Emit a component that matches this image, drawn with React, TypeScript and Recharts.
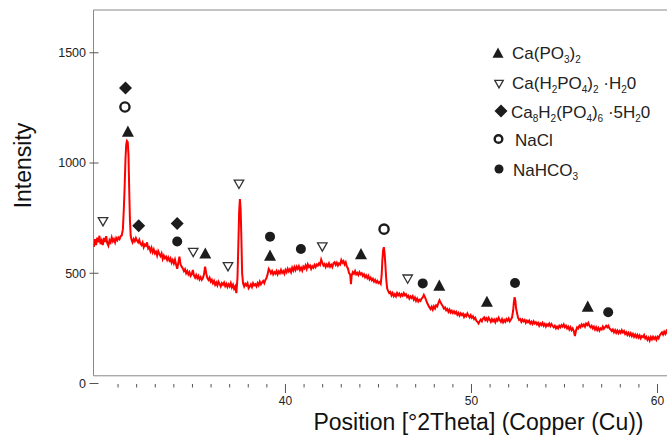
import React from 'react';
import { ComposedChart, Line, Scatter, XAxis, YAxis, ReferenceArea } from 'recharts';

// XRD scan, [2theta, counts]
const pattern: [number, number][] = [
  [29.70, 620], [29.76, 655], [29.82, 628], [29.88, 662], [29.94, 640], [30.00, 670], [30.06, 632], [30.12, 648],
  [30.18, 628], [30.24, 660], [30.30, 642], [30.36, 668], [30.42, 636], [30.48, 625], [30.54, 650], [30.60, 640],
  [30.66, 662], [30.72, 645], [30.78, 655], [30.84, 640], [30.90, 660], [30.96, 650], [31.02, 662], [31.08, 655],
  [31.14, 668], [31.20, 672], [31.26, 700], [31.31, 790], [31.35, 880], [31.40, 1020], [31.44, 1085], [31.48, 1100],
  [31.52, 1095], [31.56, 1040], [31.60, 880], [31.64, 740], [31.68, 670], [31.73, 650], [31.78, 640], [31.84, 655],
  [31.90, 645], [31.96, 660], [32.02, 648], [32.08, 640], [32.14, 652], [32.20, 635], [32.26, 628], [32.32, 640],
  [32.38, 618], [32.44, 630], [32.50, 625], [32.56, 640], [32.62, 612], [32.68, 618], [32.74, 600], [32.80, 615],
  [32.86, 595], [32.92, 608], [32.98, 590], [33.04, 598], [33.10, 580], [33.16, 600], [33.22, 588], [33.28, 578],
  [33.34, 590], [33.40, 565], [33.46, 580], [33.52, 568], [33.58, 575], [33.64, 560], [33.70, 572], [33.76, 558],
  [33.82, 568], [33.88, 548], [33.94, 560], [34.00, 545], [34.06, 562], [34.12, 540], [34.18, 520], [34.24, 548],
  [34.30, 575], [34.36, 540], [34.42, 530], [34.48, 522], [34.54, 510], [34.60, 518], [34.66, 500], [34.72, 510],
  [34.78, 495], [34.84, 505], [34.90, 488], [34.96, 495], [35.02, 515], [35.08, 490], [35.14, 480], [35.20, 492],
  [35.26, 478], [35.32, 488], [35.38, 472], [35.44, 482], [35.50, 470], [35.56, 478], [35.62, 495], [35.68, 530],
  [35.74, 500], [35.80, 478], [35.86, 470], [35.92, 480], [35.98, 462], [36.04, 470], [36.10, 455], [36.16, 465],
  [36.22, 448], [36.28, 458], [36.34, 445], [36.40, 462], [36.46, 452], [36.52, 440], [36.58, 455], [36.64, 448],
  [36.70, 458], [36.76, 442], [36.82, 452], [36.88, 438], [36.94, 450], [37.00, 440], [37.06, 455], [37.12, 436],
  [37.18, 448], [37.24, 430], [37.30, 440], [37.36, 410], [37.42, 480], [37.47, 640], [37.51, 780], [37.55, 836],
  [37.59, 790], [37.63, 660], [37.67, 500], [37.72, 455], [37.78, 440], [37.84, 452], [37.90, 445], [37.96, 455],
  [38.02, 432], [38.08, 440], [38.14, 450], [38.20, 438], [38.26, 455], [38.32, 445], [38.38, 450], [38.44, 440],
  [38.50, 455], [38.56, 445], [38.62, 462], [38.68, 450], [38.74, 458], [38.80, 465], [38.86, 455], [38.92, 470],
  [38.98, 478], [39.04, 495], [39.10, 520], [39.16, 512], [39.22, 500], [39.28, 510], [39.34, 495], [39.40, 505],
  [39.46, 498], [39.52, 510], [39.58, 495], [39.64, 508], [39.70, 500], [39.76, 515], [39.82, 502], [39.88, 510],
  [39.94, 498], [40.00, 515], [40.06, 505], [40.12, 520], [40.18, 508], [40.24, 518], [40.30, 505], [40.36, 525],
  [40.42, 512], [40.48, 528], [40.54, 515], [40.60, 530], [40.66, 520], [40.72, 532], [40.78, 515], [40.84, 525],
  [40.90, 512], [40.96, 530], [41.02, 522], [41.08, 535], [41.14, 520], [41.20, 540], [41.26, 528], [41.32, 535],
  [41.38, 520], [41.44, 532], [41.50, 525], [41.56, 538], [41.62, 528], [41.68, 540], [41.74, 535], [41.80, 545],
  [41.86, 538], [41.92, 562], [41.98, 548], [42.04, 535], [42.10, 542], [42.16, 528], [42.22, 540], [42.28, 532],
  [42.34, 545], [42.40, 530], [42.46, 538], [42.52, 528], [42.58, 545], [42.64, 550], [42.70, 538], [42.76, 548],
  [42.82, 535], [42.88, 545], [42.94, 540], [43.00, 560], [43.06, 548], [43.12, 555], [43.18, 540], [43.24, 550],
  [43.30, 530], [43.36, 522], [43.42, 500], [43.48, 495], [43.52, 450], [43.56, 490], [43.62, 505], [43.68, 498],
  [43.74, 510], [43.80, 495], [43.86, 502], [43.92, 492], [43.98, 505], [44.04, 495], [44.10, 500], [44.16, 488],
  [44.22, 495], [44.28, 482], [44.34, 490], [44.40, 478], [44.46, 488], [44.52, 472], [44.58, 480], [44.64, 468],
  [44.70, 475], [44.76, 462], [44.82, 470], [44.88, 458], [44.94, 465], [45.00, 455], [45.06, 460], [45.12, 452],
  [45.17, 490], [45.21, 560], [45.25, 605], [45.29, 618], [45.33, 590], [45.37, 540], [45.42, 470], [45.47, 430],
  [45.52, 420], [45.58, 410], [45.64, 415], [45.70, 400], [45.76, 410], [45.82, 396], [45.88, 405], [45.94, 395],
  [46.00, 410], [46.06, 400], [46.12, 408], [46.18, 396], [46.24, 405], [46.30, 398], [46.36, 410], [46.42, 400],
  [46.48, 405], [46.54, 392], [46.60, 398], [46.66, 385], [46.72, 395], [46.78, 388], [46.84, 396], [46.90, 380],
  [46.96, 390], [47.02, 375], [47.08, 385], [47.14, 372], [47.20, 380], [47.26, 375], [47.32, 385], [47.38, 390],
  [47.44, 402], [47.50, 392], [47.56, 378], [47.62, 365], [47.68, 355], [47.74, 345], [47.80, 338], [47.86, 348],
  [47.92, 335], [47.98, 350], [48.04, 340], [48.10, 355], [48.16, 350], [48.22, 365], [48.28, 378], [48.34, 368],
  [48.40, 358], [48.46, 350], [48.52, 340], [48.58, 345], [48.64, 332], [48.70, 338], [48.76, 325], [48.82, 335],
  [48.88, 322], [48.94, 330], [49.00, 320], [49.06, 328], [49.12, 318], [49.18, 325], [49.24, 312], [49.30, 320],
  [49.36, 308], [49.42, 318], [49.48, 310], [49.54, 316], [49.60, 302], [49.66, 312], [49.72, 305], [49.78, 318],
  [49.84, 308], [49.90, 300], [49.96, 310], [50.02, 298], [50.08, 305], [50.14, 292], [50.20, 298], [50.26, 285],
  [50.32, 280], [50.38, 272], [50.44, 282], [50.50, 290], [50.56, 282], [50.62, 295], [50.68, 300], [50.74, 288],
  [50.80, 296], [50.86, 285], [50.92, 298], [50.98, 290], [51.04, 280], [51.10, 292], [51.16, 282], [51.22, 290],
  [51.28, 278], [51.34, 292], [51.40, 285], [51.46, 298], [51.52, 288], [51.58, 280], [51.64, 292], [51.70, 278],
  [51.76, 288], [51.82, 280], [51.88, 292], [51.94, 285], [52.00, 295], [52.06, 282], [52.12, 290], [52.18, 300],
  [52.24, 330], [52.28, 370], [52.32, 392], [52.36, 375], [52.40, 340], [52.45, 320], [52.50, 300], [52.56, 288],
  [52.62, 292], [52.68, 280], [52.74, 290], [52.80, 282], [52.86, 288], [52.92, 275], [52.98, 285], [53.04, 278],
  [53.10, 285], [53.16, 272], [53.22, 280], [53.28, 270], [53.34, 282], [53.40, 272], [53.46, 278], [53.52, 268],
  [53.58, 275], [53.64, 262], [53.70, 272], [53.76, 265], [53.82, 275], [53.88, 262], [53.94, 270], [54.00, 258],
  [54.06, 268], [54.12, 262], [54.18, 272], [54.24, 260], [54.30, 270], [54.36, 262], [54.42, 255], [54.48, 262],
  [54.54, 250], [54.60, 258], [54.66, 250], [54.72, 262], [54.78, 255], [54.84, 265], [54.90, 258], [54.96, 268],
  [55.02, 255], [55.08, 262], [55.14, 250], [55.20, 258], [55.26, 245], [55.32, 255], [55.38, 242], [55.44, 250],
  [55.50, 238], [55.56, 215], [55.62, 240], [55.68, 255], [55.74, 250], [55.80, 262], [55.86, 255], [55.92, 268],
  [55.98, 260], [56.04, 268], [56.10, 258], [56.16, 272], [56.22, 265], [56.28, 275], [56.34, 262], [56.40, 255],
  [56.46, 262], [56.52, 250], [56.58, 258], [56.64, 245], [56.70, 255], [56.76, 242], [56.82, 252], [56.88, 240],
  [56.94, 250], [57.00, 245], [57.06, 258], [57.12, 248], [57.18, 255], [57.24, 262], [57.30, 255], [57.36, 262],
  [57.42, 250], [57.48, 245], [57.54, 238], [57.60, 245], [57.66, 232], [57.72, 242], [57.78, 230], [57.84, 240],
  [57.90, 228], [57.96, 238], [58.02, 230], [58.08, 242], [58.14, 232], [58.20, 238], [58.26, 225], [58.32, 232],
  [58.38, 220], [58.44, 230], [58.50, 218], [58.56, 228], [58.62, 215], [58.68, 225], [58.74, 212], [58.80, 222],
  [58.86, 210], [58.92, 220], [58.98, 208], [59.04, 218], [59.10, 205], [59.16, 215], [59.22, 210], [59.28, 220],
  [59.34, 205], [59.40, 212], [59.46, 198], [59.52, 208], [59.58, 195], [59.64, 210], [59.70, 200], [59.76, 212],
  [59.82, 202], [59.88, 210], [59.94, 198], [60.00, 212], [60.06, 205], [60.12, 218], [60.18, 225], [60.24, 232],
  [60.30, 222], [60.36, 235], [60.42, 225], [60.48, 238], [60.54, 228], [60.60, 240], [60.66, 230], [60.72, 238],
  [60.78, 228], [60.84, 240], [60.90, 232], [60.96, 242], [61.02, 235], [61.08, 245], [61.14, 238], [61.20, 242],
];

// phase markers [2theta, y of marker]
const caPO3: [number, number][] = [[31.53, 1143], [35.69, 590], [39.17, 580], [44.06, 587], [48.27, 444], [50.83, 371], [56.25, 349]];
const caH2PO4: [number, number][] = [[30.19, 734], [35.04, 595], [36.91, 530], [37.5, 904], [41.98, 620], [46.57, 474]];
const ca8H2PO4: [number, number][] = [[31.4, 1340], [32.11, 716], [34.18, 726]];
const naCl: [number, number][] = [[31.37, 1254], [45.3, 700]];
const naHCO3: [number, number][] = [[34.18, 644], [39.17, 666], [40.83, 610], [47.38, 454], [52.34, 456], [57.35, 323]];

const xTicks = [31, 32, 33, 34, 35, 36, 37, 38, 39, 40, 41, 42, 43, 44, 45, 46, 47, 48, 49, 50, 51, 52, 53, 54, 55, 56, 57, 58, 59, 60, 61];
const yTicks = [0, 500, 1000, 1500];

const ink = '#1c1c1c';
const font = '"Liberation Sans", Arial, sans-serif';

const toPts = (arr: [number, number][]) => arr.map(([x, y]) => ({ x, y }));

const triUp = (cx: number, cy: number, w: number) => (
  <polygon points={`${cx},${cy - w * 0.5} ${cx + w / 2},${cy + w * 0.43} ${cx - w / 2},${cy + w * 0.43}`} fill={ink} />
);
const triDown = (cx: number, cy: number, w: number) => (
  <polygon points={`${cx - w / 2},${cy - w * 0.42} ${cx + w / 2},${cy - w * 0.42} ${cx},${cy + w * 0.45}`} fill="#fff" stroke="#333" strokeWidth={1.3} />
);
const diamond = (cx: number, cy: number, w: number) => (
  <polygon points={`${cx},${cy - w / 2} ${cx + w / 2},${cy} ${cx},${cy + w / 2} ${cx - w / 2},${cy}`} fill={ink} />
);
const ring = (cx: number, cy: number, r: number) => <circle cx={cx} cy={cy} r={r} fill="#fff" stroke={ink} strokeWidth={2.4} />;
const dot = (cx: number, cy: number, r: number) => <circle cx={cx} cy={cy} r={r} fill={ink} />;

const XTick = ({ x, y, payload }: any) => {
  const major = payload.value % 10 === 0;
  return (
    <g>
      <line x1={x} x2={x} y1={y + 0.5} y2={y + (major ? 9.5 : 4)} stroke="#555" />
      {major && (
        <text x={x} y={y + 21.5} textAnchor="middle" fontSize={12} fill="#222" fontFamily={font}>
          {payload.value}
        </text>
      )}
    </g>
  );
};

const YTick = ({ x, y, payload }: any) => (
  <g>
    <line x1={x - 4} x2={x + 5} y1={y} y2={y} stroke="#555" />
    <text x={x - 7.5} y={y} dy="0.35em" textAnchor="end" fontSize={12.5} fill="#222" fontFamily={font}>
      {payload.value}
    </text>
  </g>
);

export default function App() {
  const sub = (t: string, after: string) => [
    <tspan key={t + after + 'a'} fontSize={10} dy={4}>{t}</tspan>,
    <tspan key={t + after + 'b'} dy={-4}>{after}</tspan>,
  ];
  return (
    <div style={{ position: 'fixed', left: 0, top: 0, width: 667, height: 437, overflow: 'hidden', background: '#fff' }}>
      <ComposedChart width={680} height={437} margin={{ top: 10, right: 0, bottom: 0, left: 0 }}>
        <XAxis
          type="number"
          dataKey="x"
          domain={[29.68, 61.21]}
          allowDataOverflow
          ticks={xTicks}
          interval={0}
          axisLine={false}
          tickLine={false}
          tickSize={0}
          tickMargin={0}
          height={53.5}
          tick={XTick}
        />
        <YAxis
          type="number"
          dataKey="y"
          domain={[0, 1694]}
          allowDataOverflow
          ticks={yTicks}
          interval={0}
          axisLine={false}
          tickLine={false}
          tickSize={0}
          tickMargin={0}
          width={93.5}
          tick={YTick}
        />
        <ReferenceArea x1={29.68} x2={61.21} y1={35} y2={1694} fill="none" stroke="#888" strokeWidth={1} />
        <Line
          data={toPts(pattern)}
          dataKey="y"
          type="linear"
          stroke="#ff0000"
          strokeWidth={2}
          dot={false}
          isAnimationActive={false}
        />
        <Scatter data={toPts(caPO3)} dataKey="y" isAnimationActive={false} shape={(p: any) => triUp(p.cx, p.cy, 12)} />
        <Scatter data={toPts(caH2PO4)} dataKey="y" isAnimationActive={false} shape={(p: any) => triDown(p.cx, p.cy, 9.5)} />
        <Scatter data={toPts(ca8H2PO4)} dataKey="y" isAnimationActive={false} shape={(p: any) => diamond(p.cx, p.cy, 13)} />
        <Scatter data={toPts(naCl)} dataKey="y" isAnimationActive={false} shape={(p: any) => ring(p.cx, p.cy, 4.6)} />
        <Scatter data={toPts(naHCO3)} dataKey="y" isAnimationActive={false} shape={(p: any) => dot(p.cx, p.cy, 5)} />
      </ComposedChart>
      <svg width={667} height={437} style={{ position: 'absolute', left: 0, top: 0, pointerEvents: 'none' }} fontFamily={font}>
        <text transform="translate(31,165.5) rotate(-90)" textAnchor="middle" fontSize={23} fill="#111">
          Intensity
        </text>
        <text x={478.5} y={430} textAnchor="middle" fontSize={23} fill="#111">
          Position [°2Theta] (Copper (Cu))
        </text>
        <g fontSize={17} fill="#222">
          {triUp(498, 53, 11)}
          <text x={512} y={58.5}>
            Ca(PO{sub('3', ')')}
            <tspan fontSize={10} dy={4}>2</tspan>
          </text>
          {triDown(499, 84, 8.5)}
          <text x={512} y={89}>
            Ca(H{sub('2', 'PO')}{sub('4', ')')}{sub('2', ' ·H')}{sub('2', '0')}
          </text>
          {diamond(501, 111, 13)}
          <text x={511} y={117.5}>
            Ca{sub('8', 'H')}{sub('2', '(PO')}{sub('4', ')')}{sub('6', ' ·5H')}{sub('2', '0')}
          </text>
          {ring(498.5, 139, 3.8)}
          <text x={515} y={146}>NaCl</text>
          {dot(499, 169, 4.5)}
          <text x={513} y={175.5}>
            NaHCO<tspan fontSize={10} dy={4}>3</tspan>
          </text>
        </g>
      </svg>
    </div>
  );
}
